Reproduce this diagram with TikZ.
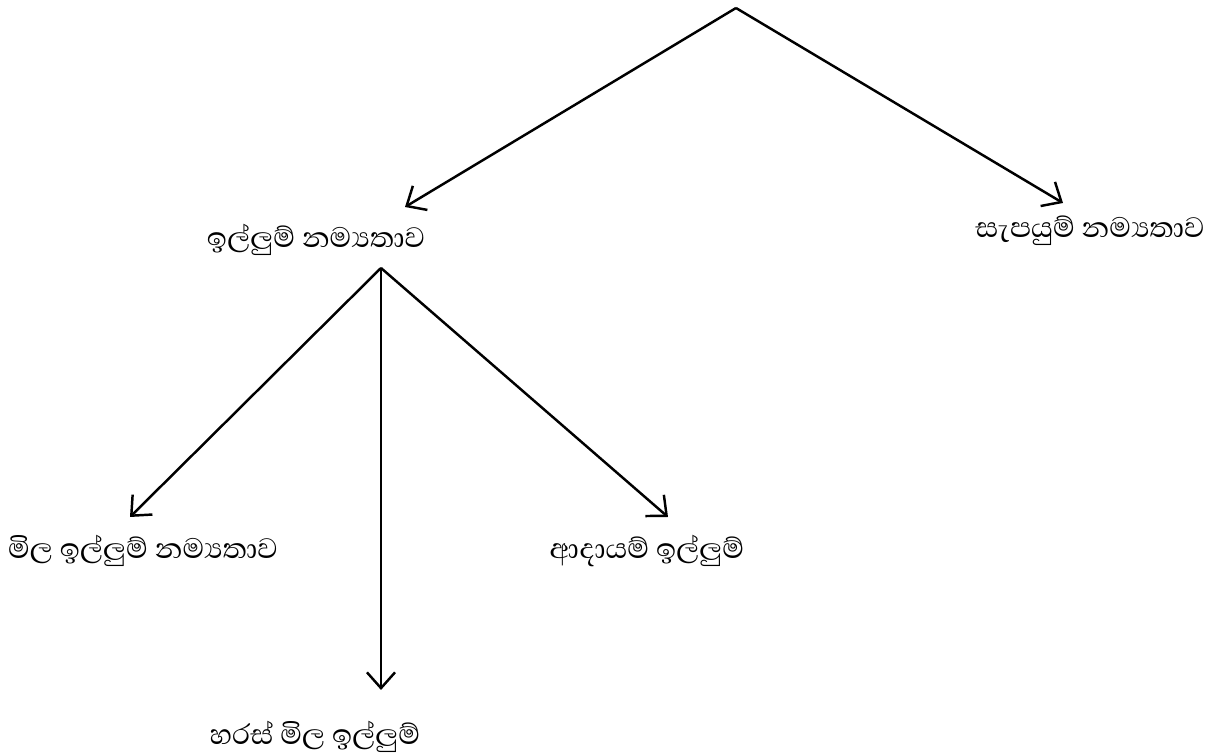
\documentclass[tikz,border=0pt]{standalone}
\usepackage{fontspec}
\newfontfamily\sinhala[Script=Sinhala]{Abhaya Libre}
\usetikzlibrary{arrows.meta}

\begin{document}
\begin{tikzpicture}[x=0.02cm, y=-0.02cm,
	link/.style={line width=1.4pt, -{Straight Barb[length=9pt, width=16pt, line width=1.4pt]}},
	term/.style={font=\sinhala\fontsize{20.5}{24}\selectfont, inner sep=0pt}]
\useasboundingbox (0,0) rectangle (1205,756);

\coordinate (root) at (736,8);
\coordinate (hub) at (381,268);
\coordinate (demandtip) at (405,207);
\coordinate (supplytip) at (1063,203);
\coordinate (pricetip) at (130,517);
\coordinate (crosstip) at (381,690);
\coordinate (incometip) at (668,517);

\node[term] (demand) at (316,240) {ඉල්ලුම් නම්^^^^200dයතාව};
\node[term] (supply) at (1090,231) {සැපයුම් නම්^^^^200dයතාව};
\node[term] (price) at (143,551) {මිල ඉල්ලුම් නම්^^^^200dයතාව};
\node[term] (income) at (647,551) {ආදායම් ඉල්ලුම්};
\node[term] (cross) at (315,737) {හරස් මිල ඉල්ලුම්};

\draw[link] (root) -- (demandtip);
\draw[link] (root) -- (supplytip);
\draw[link] (hub) -- (pricetip);
\draw[link] (hub) -- (crosstip);
\draw[link] (hub) -- (incometip);

\end{tikzpicture}
\end{document}
